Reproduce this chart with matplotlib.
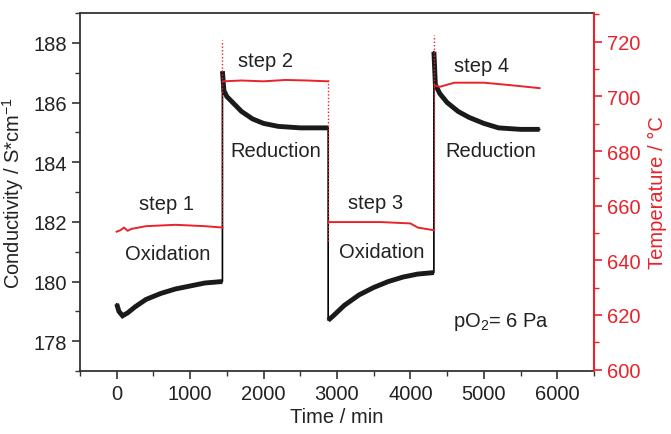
import matplotlib.pyplot as plt
from matplotlib.ticker import MultipleLocator

plt.rcParams['font.family'] = ['Liberation Sans', 'DejaVu Sans']
plt.rcParams['font.size'] = 14.5
plt.rcParams['mathtext.fontset'] = 'custom'
plt.rcParams['mathtext.rm'] = 'Liberation Sans'

red = '#e8232b'

# conductivity, one list per step (time in min, S/cm)
t_step1 = [0, 30, 80, 150, 250, 400, 600, 800, 1000, 1200, 1440]
s_step1 = [179.25, 179.0, 178.85, 178.95, 179.15, 179.4, 179.6, 179.75, 179.85, 179.95, 180.0]
t_step2 = [1440, 1460, 1500, 1600, 1700, 1850, 2000, 2200, 2500, 2880]
s_step2 = [187.05, 186.4, 186.2, 185.95, 185.7, 185.45, 185.3, 185.2, 185.15, 185.15]
t_step3 = [2880, 2950, 3100, 3300, 3500, 3700, 3900, 4100, 4320]
s_step3 = [178.7, 178.85, 179.2, 179.55, 179.8, 180.0, 180.15, 180.25, 180.3]
t_step4 = [4320, 4340, 4400, 4500, 4650, 4800, 5000, 5200, 5500, 5760]
s_step4 = [187.7, 186.6, 186.3, 186.0, 185.7, 185.5, 185.3, 185.15, 185.1, 185.1]

# temperature (deg C)
tt_step1 = [0, 50, 100, 150, 200, 400, 800, 1200, 1440]
T_step1 = [650.5, 651.0, 652.0, 650.8, 651.5, 652.5, 653.0, 652.5, 652.0]
tt_step2 = [1450, 1700, 2000, 2300, 2600, 2880]
T_step2 = [705.5, 705.8, 705.5, 706.0, 705.8, 705.5]
tt_step3 = [2890, 3200, 3600, 4000, 4100, 4320]
T_step3 = [654.0, 654.0, 654.0, 653.5, 652.0, 651.0]
tt_step4 = [4330, 4400, 4600, 5000, 5400, 5760]
T_step4 = [704.0, 703.5, 705.0, 705.0, 704.0, 703.0]

# vertical temperature transitions (time, low, high)
jump_t = [1440, 2880, 4320]
jump_lo = [652.0, 647.0, 651.0]
jump_hi = [720.5, 706.0, 722.5]

fig = plt.figure(figsize=(6.71, 4.35), dpi=100)
ax = fig.add_axes([0.1192, 0.1448, 0.7660, 0.8230])
ax2 = ax.twinx()

t_all = t_step1 + t_step2 + t_step3 + t_step4
s_all = s_step1 + s_step2 + s_step3 + s_step4
ax.plot(t_all, s_all, color='black', lw=1.2, zorder=3)
for t, s in [(t_step1, s_step1), (t_step2, s_step2), (t_step3, s_step3), (t_step4, s_step4)]:
    ax.plot(t, s, color='#1a1a1a', lw=3.5, solid_capstyle='butt', solid_joinstyle='miter', zorder=3)

for t, T in [(tt_step1, T_step1), (tt_step2, T_step2), (tt_step3, T_step3), (tt_step4, T_step4)]:
    ax2.plot(t, T, color=red, lw=1.4)
ax2.vlines(jump_t, jump_lo, jump_hi, colors=red, linestyles=(0, (1, 1.5)), lw=1.0)

ax.set_xlim(-500, 6500)
ax.set_ylim(177, 189)
ax2.set_ylim(599.5, 730.5)

ax.xaxis.set_major_locator(MultipleLocator(1000))
ax.xaxis.set_minor_locator(MultipleLocator(500))
ax.yaxis.set_major_locator(MultipleLocator(2))
ax.yaxis.set_minor_locator(MultipleLocator(1))
ax2.yaxis.set_major_locator(MultipleLocator(20))
ax2.yaxis.set_minor_locator(MultipleLocator(10))

ax.tick_params(axis='both', which='major', direction='out', length=6, width=1.2, color='#333333')
ax.tick_params(axis='both', which='minor', direction='out', length=3.5, width=1.0, color='#333333')
ax2.tick_params(axis='y', which='major', direction='out', length=6, width=1.2, colors=red)
ax2.tick_params(axis='y', which='minor', direction='out', length=3.5, width=1.0, colors=red)

for side in ['left', 'top', 'bottom']:
    ax.spines[side].set_linewidth(1.3)
    ax.spines[side].set_color('#333333')
ax2.spines['right'].set_color(red)
ax2.spines['right'].set_linewidth(1.5)
ax2.spines['left'].set_visible(False)
ax2.spines['top'].set_visible(False)
ax2.spines['bottom'].set_visible(False)
ax.spines['right'].set_visible(False)

ax.set_xlabel('Time / min', color='#222222', labelpad=3)
ax.set_ylabel('Conductivity / S*cm$^{\\mathregular{-1}}$', color='#222222', labelpad=5)
ax2.set_ylabel('Temperature / °C', color=red, labelpad=5)
ax.tick_params(labelcolor='#222222')

ax.text(680, 182.6, 'step 1', ha='center', va='center', color='#222222')
ax.text(700, 180.95, 'Oxidation', ha='center', va='center', color='#222222')
ax.text(2020, 187.4, 'step 2', ha='center', va='center', color='#222222')
ax.text(2160, 184.4, 'Reduction', ha='center', va='center', color='#222222')
ax.text(3520, 182.65, 'step 3', ha='center', va='center', color='#222222')
ax.text(3610, 181.0, 'Oxidation', ha='center', va='center', color='#222222')
ax.text(4970, 187.25, 'step 4', ha='center', va='center', color='#222222')
ax.text(5090, 184.4, 'Reduction', ha='center', va='center', color='#222222')
ax.text(4580, 178.67, 'pO$_\\mathregular{2}$= 6 Pa', ha='left', va='center', color='#222222')

fig.savefig('out.png', dpi=100)
